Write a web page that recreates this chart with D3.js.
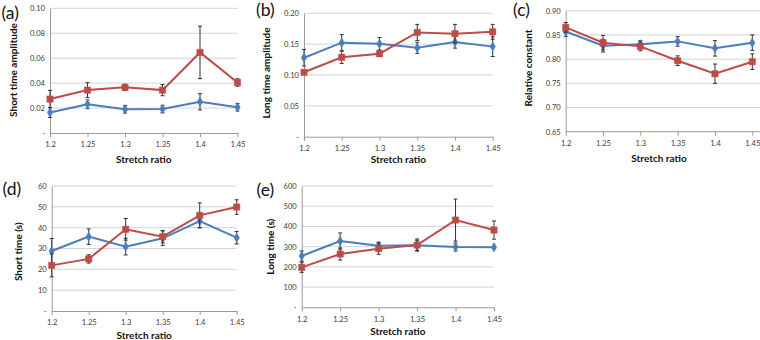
<!DOCTYPE html>
<html><head><meta charset="utf-8">
<script src="https://cdn.jsdelivr.net/npm/d3@7"></script>
<style>
html,body{margin:0;padding:0;background:#fff;}
svg{display:block;}
text{font-family:Lato,"Open Sans",sans-serif;}
</style>
</head><body>
<svg id="chart" width="760" height="340"></svg>
<script>
// ---- data ----
const stretchRatios = ["1.2", "1.25", "1.3", "1.35", "1.4", "1.45"];

const shortAmpBlue    = [0.0165, 0.023, 0.019, 0.0192, 0.025, 0.0206];
const shortAmpBlueErr = [0.004, 0.0035, 0.003, 0.003, 0.0065, 0.003];
const shortAmpRed     = [0.0272, 0.0344, 0.0366, 0.0344, 0.0646, 0.0405];
const shortAmpRedErr  = [0.007, 0.006, 0.0025, 0.0045, 0.021, 0.003];
const shortAmpTicks   = [0, 0.02, 0.04, 0.06, 0.08, 0.10];

const longAmpBlue     = [0.128, 0.1524, 0.1507, 0.144, 0.1535, 0.146];
const longAmpBlueErr  = [0.0135, 0.013, 0.01, 0.009, 0.01, 0.016];
const longAmpRed      = [0.1044, 0.1287, 0.1345, 0.169, 0.167, 0.170];
const longAmpRedErr   = [0.003, 0.01, 0.004, 0.013, 0.015, 0.012];
const longAmpTicks    = [0, 0.05, 0.10, 0.15, 0.20];

const relConstBlue    = [0.857, 0.8277, 0.8305, 0.8366, 0.8222, 0.8339];
const relConstBlueErr = [0.01, 0.013, 0.008, 0.01, 0.016, 0.016];
const relConstRed     = [0.8656, 0.8339, 0.8263, 0.7967, 0.7698, 0.7946];
const relConstRedErr  = [0.01, 0.015, 0.009, 0.01, 0.02, 0.016];
const relConstTicks   = [0.65, 0.70, 0.75, 0.80, 0.85, 0.90];

const shortTimeBlue    = [28.8, 35.7, 30.9, 34.9, 43.2, 35.2];
const shortTimeBlueErr = [6, 3.7, 4, 3.5, 3.2, 3];
const shortTimeRed     = [21.9, 25.0, 39.2, 35.7, 45.9, 49.9];
const shortTimeRedErr  = [5.5, 2, 5.2, 3, 6, 3.5];
const shortTimeTicks   = [0, 10, 20, 30, 40, 50, 60];

const longTimeBlue    = [253.7, 327.8, 304.8, 306.4, 298.2, 296.5];
const longTimeBlueErr = [25, 40, 17, 25, 20, 5];
const longTimeRed     = [197.7, 263.6, 290, 308, 431.6, 382];
const longTimeRedErr  = [25, 30, 28, 30, 104, 45];
const longTimeTicks   = [0, 100, 200, 300, 400, 500, 600];

const panelLabels = ["(a)", "(b)", "(c)", "(d)", "(e)"];
const yTitles = ["Short time amplitude", "Long time amplitude", "Relative constant", "Short time (s)", "Long time (s)"];
const xTitle = "Stretch ratio";

// ---- layout / styles ----
const BLUE = "#4A7EBB", RED = "#BE4B48";
const panels = [
  {label: panelLabels[0], yTitle: yTitles[0], blue: shortAmpBlue, blueErr: shortAmpBlueErr, red: shortAmpRed, redErr: shortAmpRedErr,
   ticks: shortAmpTicks, fmt: d3.format(".2f"), zeroDash: true,
   x0: 50, x1: 237.5, yTop: 8.3, yBot: 133, lx: 1.5, ly: 18.5, tx: 13, ty: 70, xty: 162.5},
  {label: panelLabels[1], yTitle: yTitles[1], blue: longAmpBlue, blueErr: longAmpBlueErr, red: longAmpRed, redErr: longAmpRedErr,
   ticks: longAmpTicks, fmt: d3.format(".2f"), zeroDash: true,
   x0: 304, x1: 492.7, yTop: 13.3, yBot: 136.7, lx: 256, ly: 15.5, tx: 266.7, ty: 73, xty: 162.5},
  {label: panelLabels[2], yTitle: yTitles[2], blue: relConstBlue, blueErr: relConstBlueErr, red: relConstRed, redErr: relConstRedErr,
   ticks: relConstTicks, fmt: d3.format(".2f"), zeroDash: false,
   x0: 565.7, x1: 752.3, yTop: 10.7, yBot: 131.7, lx: 513, ly: 16, tx: 528.3, ty: 68, xty: 161.8, gridEnd: 760},
  {label: panelLabels[3], yTitle: yTitles[3], blue: shortTimeBlue, blueErr: shortTimeBlueErr, red: shortTimeRed, redErr: shortTimeRedErr,
   ticks: shortTimeTicks, fmt: d3.format("d"), zeroDash: true,
   x0: 51.7, x1: 236.7, yTop: 186, yBot: 311, lx: 2.5, ly: 195, tx: 18.3, ty: 251.7, xty: 338.5},
  {label: panelLabels[4], yTitle: yTitles[4], blue: longTimeBlue, blueErr: longTimeBlueErr, red: longTimeRed, redErr: longTimeRedErr,
   ticks: longTimeTicks, fmt: d3.format("d"), zeroDash: true,
   x0: 301.7, x1: 494, yTop: 186, yBot: 307.3, lx: 256.5, ly: 195.5, tx: 270.7, ty: 246.7, xty: 335.2}
];

const svg = d3.select("#chart");
const TICK_FONT = 7.6, TITLE_FONT = 10, LABEL_FONT = 17.5;

panels.forEach(p => {
  const g = svg.append("g");
  const x = d3.scalePoint().domain(stretchRatios).range([p.x0, p.x1]);
  const y = d3.scaleLinear().domain([p.ticks[0], p.ticks[p.ticks.length - 1]]).range([p.yBot, p.yTop]);
  const gridEnd = p.gridEnd || p.x1;

  // gridlines
  g.append("g").selectAll("line").data(p.ticks.slice(1)).join("line")
    .attr("x1", p.x0).attr("x2", gridEnd)
    .attr("y1", d => y(d)).attr("y2", d => y(d))
    .attr("stroke", "#D4D4D4").attr("stroke-width", 1);

  // y axis
  const yAxis = d3.axisLeft(y).tickValues(p.ticks).tickSize(0).tickPadding(5)
    .tickFormat(d => (p.zeroDash && d === 0) ? "-" : p.fmt(d));
  const ya = g.append("g").attr("transform", `translate(${p.x0},0)`).call(yAxis);
  ya.select(".domain").attr("stroke", "#9A9A9A");
  ya.selectAll("text").attr("font-size", TICK_FONT).attr("fill", "#404040")
    .attr("font-family", "Lato, 'Open Sans', sans-serif");

  // x axis
  const xAxis = d3.axisBottom(x).tickSizeInner(4).tickSizeOuter(0).tickPadding(5);
  const xa = g.append("g").attr("transform", `translate(0,${p.yBot})`).call(xAxis);
  xa.select(".domain").attr("stroke", "#9A9A9A");
  if (p.gridEnd) xa.select(".domain").attr("d", `M${p.x0},0H${p.gridEnd}`);
  xa.selectAll(".tick line").attr("stroke", "#9A9A9A");
  xa.selectAll("text").attr("font-size", TICK_FONT).attr("fill", "#404040")
    .attr("font-family", "Lato, 'Open Sans', sans-serif");

  // titles
  g.append("text").text(xTitle)
    .attr("x", (p.x0 + p.x1) / 2).attr("y", p.xty)
    .attr("text-anchor", "middle").attr("font-size", TITLE_FONT).attr("font-weight", "bold").attr("fill", "#111");
  g.append("text").text(p.yTitle)
    .attr("transform", `translate(${p.tx + 3.6},${p.ty}) rotate(-90)`)
    .attr("text-anchor", "middle").attr("font-size", TITLE_FONT).attr("font-weight", "bold").attr("fill", "#111");
  g.append("text").text(p.label)
    .attr("x", p.lx).attr("y", p.ly)
    .attr("font-size", LABEL_FONT).attr("fill", "#111");

  const series = [
    {vals: p.blue, errs: p.blueErr, color: BLUE, shape: d3.symbolDiamond, size: 26},
    {vals: p.red, errs: p.redErr, color: RED, shape: d3.symbolSquare, size: 40}
  ];
  series.forEach(s => {
    const pts = stretchRatios.map((c, i) => ({c, v: s.vals[i], e: s.errs[i]}));
    const eb = g.append("g").attr("stroke", "#333").attr("stroke-width", 1);
    pts.forEach(d => {
      const xx = x(d.c), yh = y(d.v + d.e), yl = y(d.v - d.e);
      eb.append("line").attr("x1", xx).attr("x2", xx).attr("y1", yh).attr("y2", yl);
      eb.append("line").attr("x1", xx - 2).attr("x2", xx + 2).attr("y1", yh).attr("y2", yh);
      eb.append("line").attr("x1", xx - 2).attr("x2", xx + 2).attr("y1", yl).attr("y2", yl);
    });
    g.append("path").datum(pts)
      .attr("d", d3.line().x(d => x(d.c)).y(d => y(d.v)))
      .attr("fill", "none").attr("stroke", s.color).attr("stroke-width", 2);
    g.append("g").selectAll("path").data(pts).join("path")
      .attr("transform", d => `translate(${x(d.c)},${y(d.v)})`)
      .attr("d", d3.symbol().type(s.shape).size(s.size))
      .attr("fill", s.color).attr("stroke", s.color).attr("stroke-width", 0.5);
  });
});
</script>
</body></html>
